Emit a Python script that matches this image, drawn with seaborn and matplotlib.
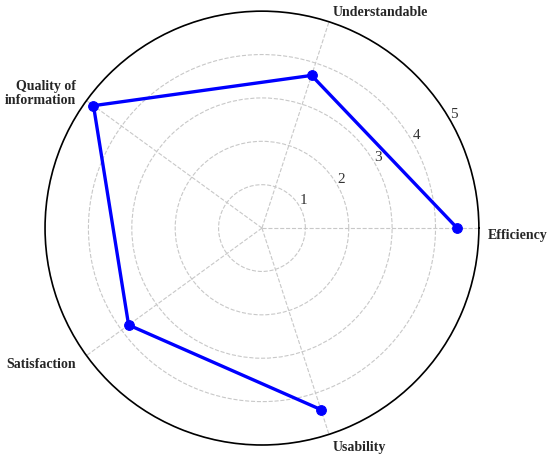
import numpy as np
import pandas as pd
import matplotlib
matplotlib.use("Agg")
import matplotlib.pyplot as plt
import seaborn as sns

categories = ["Efficiency", "Understandable", "Quality of\ninformation", "Satisfaction", "Usability"]
scores = [4.5, 3.7, 4.8, 3.8, 4.4]
r_ticks = [1, 2, 3, 4, 5]

sns.set_style("white")
plt.rcParams['font.family'] = ['Liberation Serif', 'DejaVu Serif']

angles = np.linspace(0, 2 * np.pi, len(categories), endpoint=False)
df = pd.DataFrame({"angle": np.append(angles, angles[0]),
                   "score": scores + scores[:1]})

fig = plt.figure(figsize=(5.5, 4.64), dpi=100)
ax = fig.add_axes([0.0818, 0.0388, 0.789, 0.935], projection="polar")

sns.lineplot(data=df, x="angle", y="score", sort=False, ax=ax,
             color="#0000ff", linewidth=2.4, marker="o", markersize=7,
             markeredgecolor="#0000ff")

ax.set_ylim(0, 5)
ax.set_yticks(r_ticks)
ax.set_yticklabels([str(t) for t in r_ticks], fontsize=11, color="#333333")
ax.set_rlabel_position(30)
ax.set_xticks(angles)
ax.set_xticklabels([])
ax.set_xlabel("")
ax.set_ylabel("")
ax.grid(True, color="#c8c8c8", linestyle="--", linewidth=0.8)
ax.spines["polar"].set_color("black")
ax.spines["polar"].set_linewidth(1.2)

# label placement: (radius, ha, va) per category
placement = [(5.2, "left", "top"),
             (5.25, "left", "center"),
             (5.3, "right", "center"),
             (5.3, "right", "center"),
             (5.3, "left", "center")]
for ang, lab, (r, ha, va) in zip(angles, categories, placement):
    ax.text(ang, r, lab, ha=ha, va=va, fontsize=10, fontweight="bold",
            linespacing=1.1)

fig.savefig("out.png", dpi=100)
